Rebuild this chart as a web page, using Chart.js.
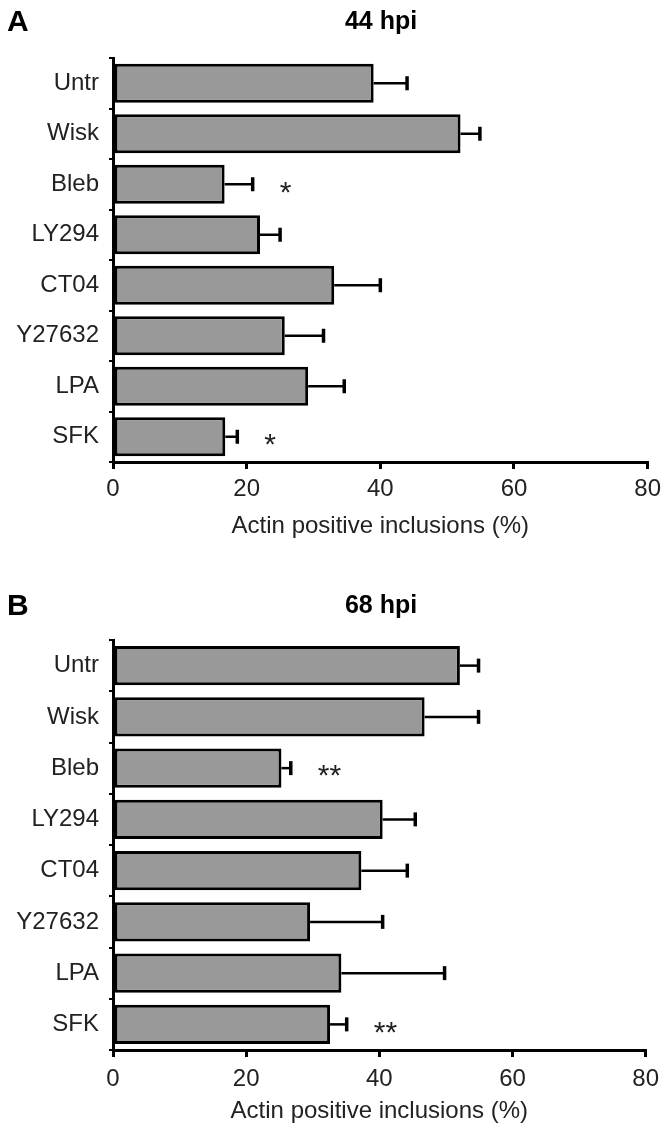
<!DOCTYPE html>
<html>
<head>
<meta charset="utf-8">
<script src="https://cdn.jsdelivr.net/npm/chart.js@4.4.0/dist/chart.umd.min.js"></script>
<style>
  html, body { margin: 0; padding: 0; background: #fff; }
  body { width: 667px; height: 1127px; position: relative; overflow: hidden; font-family: "Liberation Sans", Arial, sans-serif; }
  .panel { position: absolute; left: 0; width: 667px; }
  .letter { position: absolute; font-weight: bold; font-size: 30px; color: #000; line-height: 1; }
  .ttl { position: absolute; font-weight: bold; font-size: 25px; color: #000; line-height: 1; width: 200px; text-align: center; }
</style>
</head>
<body>
<div class="panel" style="top:0;height:545px;">
  <canvas id="cA" width="667" height="545"></canvas>
</div>
<div class="panel" style="top:584px;height:543px;">
  <canvas id="cB" width="667" height="543"></canvas>
</div>
<div class="letter" style="left:7px;top:6px;">A</div>
<div class="ttl" style="left:281px;top:8px;">44 hpi</div>
<div class="letter" style="left:7px;top:590px;">B</div>
<div class="ttl" style="left:281px;top:592px;">68 hpi</div>
<script>
const categories = ["Untr", "Wisk", "Bleb", "LY294", "CT04", "Y27632", "LPA", "SFK"];
const xTicks = [0, 20, 40, 60, 80];
const axisTitle = "Actin positive inclusions (%)";

const meanA = [39.0, 52.0, 16.7, 22.0, 33.1, 25.7, 29.2, 16.8];
const errA  = [5.0, 2.9, 4.2, 3.0, 6.9, 5.8, 5.4, 1.8];
const sigA  = ["", "", "*", "", "", "", "", "*"];

const meanB = [52.1, 46.8, 25.3, 40.5, 37.3, 29.6, 34.3, 32.6];
const errB  = [2.8, 8.1, 1.4, 4.9, 6.9, 10.9, 15.5, 2.5];
const sigB  = ["", "", "**", "", "", "", "", "**"];

const FONT = '"Liberation Sans", Arial, sans-serif';

const errorBarPlugin = {
  id: 'errorBars',
  afterDatasetsDraw(chart, args, opts) {
    const ctx = chart.ctx;
    const meta = chart.getDatasetMeta(0);
    const xs = chart.scales.x;
    ctx.save();
    meta.data.forEach((bar, i) => {
      const v = opts.means[i], e = opts.errs[i];
      const x0 = xs.getPixelForValue(v);
      const x1 = xs.getPixelForValue(v + e);
      const y = bar.y;
      ctx.strokeStyle = '#000';
      ctx.lineWidth = 2.5;
      ctx.beginPath(); ctx.moveTo(x0, y); ctx.lineTo(x1, y); ctx.stroke();
      ctx.lineWidth = 3.5;
      ctx.beginPath(); ctx.moveTo(x1, y - 7); ctx.lineTo(x1, y + 7); ctx.stroke();
      const s = opts.sig[i];
      if (s) {
        ctx.fillStyle = '#222';
        ctx.font = '30px ' + FONT;
        ctx.textAlign = 'left';
        ctx.textBaseline = 'middle';
        ctx.fillText(s, x1 + 27, y + 9);
      }
    });
    ctx.restore();
  }
};

function makeChart(id, means, errs, sig, padTop, axisH, tickPad, titlePadBottom) {
  return new Chart(document.getElementById(id), {
    type: 'bar',
    data: {
      labels: categories,
      datasets: [{
        data: means,
        backgroundColor: '#999999',
        borderColor: '#000000',
        borderWidth: 3,
        borderSkipped: false,
        barPercentage: 0.77,
        categoryPercentage: 1.0
      }]
    },
    options: {
      indexAxis: 'y',
      responsive: false,
      animation: false,
      devicePixelRatio: 1,
      layout: { padding: { top: padTop, right: 19, bottom: 0, left: 0 } },
      plugins: {
        legend: { display: false },
        tooltip: { enabled: false },
        errorBars: { means: means, errs: errs, sig: sig }
      },
      scales: {
        x: {
          type: 'linear',
          min: 0, max: 80,
          afterBuildTicks(scale) { scale.ticks = xTicks.map(v => ({ value: v })); },
          afterFit(scale) { scale.height = axisH; },
          border: { color: '#000', width: 3 },
          grid: { drawOnChartArea: false, drawTicks: true, tickLength: 7, color: '#000', lineWidth: 3 },
          ticks: { color: '#222', font: { family: FONT, size: 24 }, padding: tickPad, maxRotation: 0 },
          title: { display: true, text: axisTitle, color: '#222', font: { family: FONT, size: 24 }, padding: { top: 2, bottom: titlePadBottom } }
        },
        y: {
          type: 'category',
          afterFit(scale) { scale.width = 113; },
          border: { color: '#000', width: 3 },
          grid: { offset: true, drawOnChartArea: false, drawTicks: true, tickLength: 4, color: '#000', lineWidth: 2 },
          ticks: { color: '#222', font: { family: FONT, size: 24 }, padding: 10 }
        }
      }
    },
    plugins: [errorBarPlugin]
  });
}

makeChart('cA', meanA, errA, sigA, 58, 83, 6, 4);
makeChart('cB', meanB, errB, sigB, 56, 77, 8, 1);
</script>
</body>
</html>
